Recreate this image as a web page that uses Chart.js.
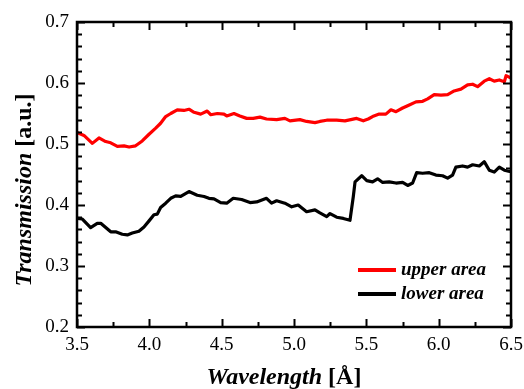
<!DOCTYPE html>
<html>
<head>
<meta charset="utf-8">
<script src="https://cdn.jsdelivr.net/npm/chart.js@4/dist/chart.umd.min.js"></script>
<style>
    html, body { margin: 0; padding: 0; background: #fff; }
    #wrap { width: 524px; height: 389px; }
</style>
</head>
<body>
<div id="wrap"><canvas id="transmission-chart" width="524" height="389"></canvas></div>
<script>
const upper_x = [3.50, 3.548, 3.606, 3.652, 3.698, 3.733, 3.779, 3.825, 3.86, 3.905, 3.951, 3.998, 4.044, 4.078, 4.113, 4.148, 4.193, 4.239, 4.274, 4.309, 4.355, 4.40, 4.424, 4.47, 4.516, 4.535, 4.585, 4.626, 4.673, 4.718, 4.765, 4.81, 4.88, 4.937, 4.972, 5.041, 5.087, 5.145, 5.179, 5.226, 5.295, 5.352, 5.433, 5.479, 5.513, 5.543, 5.589, 5.635, 5.67, 5.705, 5.751, 5.797, 5.843, 5.889, 5.924, 5.969, 6.016, 6.062, 6.107, 6.154, 6.20, 6.235, 6.269, 6.315, 6.35, 6.384, 6.419, 6.454, 6.466, 6.50];
const upper_y = [0.519, 0.514, 0.501, 0.510, 0.504, 0.502, 0.496, 0.497, 0.495, 0.497, 0.505, 0.516, 0.526, 0.534, 0.545, 0.550, 0.556, 0.555, 0.557, 0.552, 0.549, 0.554, 0.548, 0.550, 0.549, 0.546, 0.550, 0.546, 0.542, 0.542, 0.544, 0.541, 0.540, 0.542, 0.538, 0.540, 0.537, 0.535, 0.537, 0.539, 0.539, 0.538, 0.542, 0.538, 0.541, 0.545, 0.549, 0.549, 0.556, 0.553, 0.559, 0.564, 0.569, 0.570, 0.574, 0.581, 0.580, 0.581, 0.587, 0.590, 0.597, 0.598, 0.594, 0.603, 0.607, 0.603, 0.605, 0.602, 0.612, 0.608];

const lower_x = [3.50, 3.537, 3.594, 3.64, 3.664, 3.733, 3.767, 3.813, 3.848, 3.882, 3.928, 3.963, 3.998, 4.032, 4.055, 4.078, 4.113, 4.148, 4.182, 4.217, 4.274, 4.331, 4.378, 4.412, 4.447, 4.493, 4.535, 4.58, 4.638, 4.696, 4.742, 4.81, 4.845, 4.88, 4.937, 4.984, 5.029, 5.087, 5.145, 5.179, 5.226, 5.249, 5.295, 5.341, 5.387, 5.41, 5.422, 5.468, 5.503, 5.543, 5.578, 5.613, 5.658, 5.705, 5.751, 5.786, 5.82, 5.848, 5.889, 5.935, 5.981, 6.027, 6.062, 6.096, 6.119, 6.165, 6.20, 6.235, 6.281, 6.315, 6.35, 6.384, 6.419, 6.454, 6.49, 6.50];
const lower_y = [0.378, 0.377, 0.363, 0.370, 0.370, 0.356, 0.356, 0.352, 0.351, 0.354, 0.357, 0.364, 0.374, 0.384, 0.385, 0.396, 0.403, 0.411, 0.415, 0.414, 0.422, 0.416, 0.414, 0.411, 0.410, 0.404, 0.403, 0.411, 0.409, 0.404, 0.405, 0.411, 0.403, 0.407, 0.403, 0.397, 0.400, 0.389, 0.392, 0.387, 0.381, 0.386, 0.380, 0.378, 0.375, 0.414, 0.438, 0.448, 0.440, 0.438, 0.443, 0.437, 0.438, 0.436, 0.437, 0.432, 0.436, 0.453, 0.452, 0.453, 0.449, 0.448, 0.444, 0.449, 0.462, 0.464, 0.462, 0.466, 0.464, 0.471, 0.457, 0.454, 0.462, 0.457, 0.455, 0.455];

const series_labels = ['upper area', 'lower area'];
const series_colors = ['rgb(255, 0, 0)', 'rgb(0, 0, 0)'];

const x_min = 3.5, x_max = 6.5, x_major = 0.5, x_minor = 0.25;
const y_min = 0.2, y_max = 0.7, y_major = 0.1, y_minor = 0.02;

const serif = "'Liberation Serif', 'Times New Roman', serif";

function to_points(xs, ys) {
    return xs.map((x, i) => { return { x: x, y: ys[i] }; });
}

function no_scale_padding(scale) {
    scale.paddingLeft = 0;
    scale.paddingRight = 0;
    scale.paddingTop = 0;
    scale.paddingBottom = 0;
}

// frame, inward ticks, axis titles and the legend box
const decorations = {
    id: 'decorations',
    afterDraw(chart) {
        const ctx = chart.ctx;
        const a = chart.chartArea;
        const sx = chart.scales.x;
        const sy = chart.scales.y;
        ctx.save();

        ctx.strokeStyle = '#000';
        ctx.lineWidth = 2;
        ctx.beginPath();
        for (let v = x_min; v <= x_max + 1e-9; v += x_minor) {
            const px = Math.round(sx.getPixelForValue(v)) + 0.5;
            const major = Math.abs(v / x_major - Math.round(v / x_major)) < 1e-6;
            const len = major ? 8 : 5;
            ctx.moveTo(px, a.bottom); ctx.lineTo(px, a.bottom - len);
            ctx.moveTo(px, a.top); ctx.lineTo(px, a.top + len);
        }
        for (let v = y_min; v <= y_max + 1e-9; v += y_minor) {
            const py = Math.round(sy.getPixelForValue(v)) + 0.5;
            const major = Math.abs(v / y_major - Math.round(v / y_major)) < 1e-6;
            const len = major ? 8 : 5;
            ctx.moveTo(a.left, py); ctx.lineTo(a.left + len, py);
            ctx.moveTo(a.right, py); ctx.lineTo(a.right - len, py);
        }
        ctx.stroke();

        ctx.lineWidth = 2.5;
        ctx.strokeRect(a.left, a.top, a.right - a.left, a.bottom - a.top);

        // axis titles: italic name, upright unit
        ctx.fillStyle = '#000';
        ctx.textBaseline = 'alphabetic';
        ctx.textAlign = 'left';
        const f_it = 'italic bold 24px ' + serif;
        const f_up = 'bold 24px ' + serif;

        ctx.font = f_it;
        const wx1 = ctx.measureText('Wavelength').width;
        ctx.font = f_up;
        const wx2 = ctx.measureText(' [Å]').width;
        let x0 = 284 - (wx1 + wx2) / 2;
        ctx.font = f_it;
        ctx.fillText('Wavelength', x0, 384);
        ctx.font = f_up;
        ctx.fillText(' [Å]', x0 + wx1, 384);

        ctx.font = f_it;
        const wy1 = ctx.measureText('Transmission').width;
        ctx.font = f_up;
        const wy2 = ctx.measureText(' [a.u.]').width;
        ctx.translate(31, 190);
        ctx.rotate(-Math.PI / 2);
        let y0 = -(wy1 + wy2) / 2;
        ctx.font = f_it;
        ctx.fillText('Transmission', y0, 0);
        ctx.font = f_up;
        ctx.fillText(' [a.u.]', y0 + wy1, 0);
        ctx.setTransform(1, 0, 0, 1, 0, 0);

        // legend
        ctx.font = 'italic bold 19px ' + serif;
        ctx.textBaseline = 'middle';
        chart.data.datasets.forEach((ds, i) => {
            const ly = a.bottom - 57 + i * 24;
            ctx.strokeStyle = ds.borderColor;
            ctx.lineWidth = 4;
            ctx.beginPath();
            ctx.moveTo(a.right - 153, ly);
            ctx.lineTo(a.right - 115, ly);
            ctx.stroke();
            ctx.fillText(ds.label, a.right - 110, ly);
        });

        ctx.restore();
    }
};

const chart = new Chart(document.getElementById('transmission-chart'), {
    type: 'line',
    data: {
        datasets: [
            {
                label: series_labels[0],
                data: to_points(upper_x, upper_y),
                borderColor: series_colors[0],
                borderWidth: 3.2,
                pointRadius: 0,
                tension: 0,
                borderJoinStyle: 'round'
            },
            {
                label: series_labels[1],
                data: to_points(lower_x, lower_y),
                borderColor: series_colors[1],
                borderWidth: 3.2,
                pointRadius: 0,
                tension: 0,
                borderJoinStyle: 'round'
            }
        ]
    },
    options: {
        responsive: false,
        animation: false,
        layout: { padding: { top: 22, right: 13, left: 0, bottom: 0 } },
        plugins: {
            legend: { display: false },
            tooltip: { enabled: false }
        },
        scales: {
            x: {
                type: 'linear',
                min: x_min,
                max: x_max,
                grid: { display: false, drawTicks: false },
                border: { display: false },
                ticks: {
                    stepSize: x_major,
                    padding: 7,
                    color: '#000',
                    font: { family: serif, size: 19 },
                    maxRotation: 0,
                    callback: (v) => v.toFixed(1)
                },
                afterFit: (scale) => { scale.height = 62; no_scale_padding(scale); }
            },
            y: {
                type: 'linear',
                min: y_min,
                max: y_max,
                grid: { display: false, drawTicks: false },
                border: { display: false },
                ticks: {
                    stepSize: y_major,
                    padding: 8,
                    color: '#000',
                    font: { family: serif, size: 19 },
                    callback: (v) => v.toFixed(1)
                },
                afterFit: (scale) => { scale.width = 77; no_scale_padding(scale); }
            }
        }
    },
    plugins: [decorations]
});
</script>
</body>
</html>
